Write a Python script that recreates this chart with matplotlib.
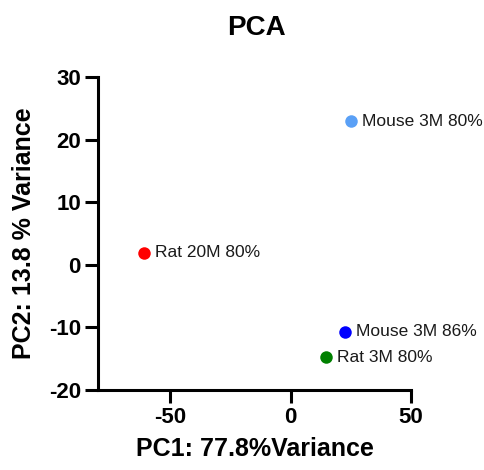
import matplotlib.pyplot as plt

plt.rcParams['font.family'] = ['Liberation Sans', 'DejaVu Sans']
plt.rcParams['axes.unicode_minus'] = False

# PCA scores for each group
groups = ['Mouse 3M 80%', 'Rat 20M 80%', 'Mouse 3M 86%', 'Rat 3M 80%']
pc1 = [25.2, -61.0, 22.4, 14.5]
pc2 = [23.0, 1.95, -10.7, -14.8]
colors = ['#5aa0f6', '#ff0000', '#0000ff', '#008000']

fig = plt.figure(figsize=(4.85, 4.70), dpi=100)
ax = fig.add_axes([0.2027, 0.1702, 0.6447, 0.6653])

for x, y, c, name in zip(pc1, pc2, colors, groups):
    ax.plot(x, y, 'o', color=c, markersize=9, markeredgewidth=0, clip_on=False)
    ax.annotate(name, (x, y), xytext=(8, 0), textcoords='offset points',
                va='center', ha='left', fontsize=12.5, color='#1a1a1a')

ax.set_xlim(-80, 50)
ax.set_ylim(-20, 30)
ax.set_xticks([-50, 0, 50])
ax.set_yticks([-20, -10, 0, 10, 20, 30])

for s in ['top', 'right']:
    ax.spines[s].set_visible(False)
for s in ['left', 'bottom']:
    ax.spines[s].set_linewidth(2.2)

ax.tick_params(width=2.2, length=9.5, labelsize=16, pad=3)
for lab in ax.get_xticklabels() + ax.get_yticklabels():
    lab.set_fontweight('bold')

ax.set_xlabel('PC1: 77.8%Variance', fontsize=18, fontweight='bold', labelpad=6)
ax.set_ylabel('PC2: 13.8 % Variance', fontsize=18, fontweight='bold', labelpad=9)
fig.text(0.528, 0.94, 'PCA', ha='center', va='center', fontsize=20, fontweight='bold')

fig.savefig('out.png', dpi=100)
